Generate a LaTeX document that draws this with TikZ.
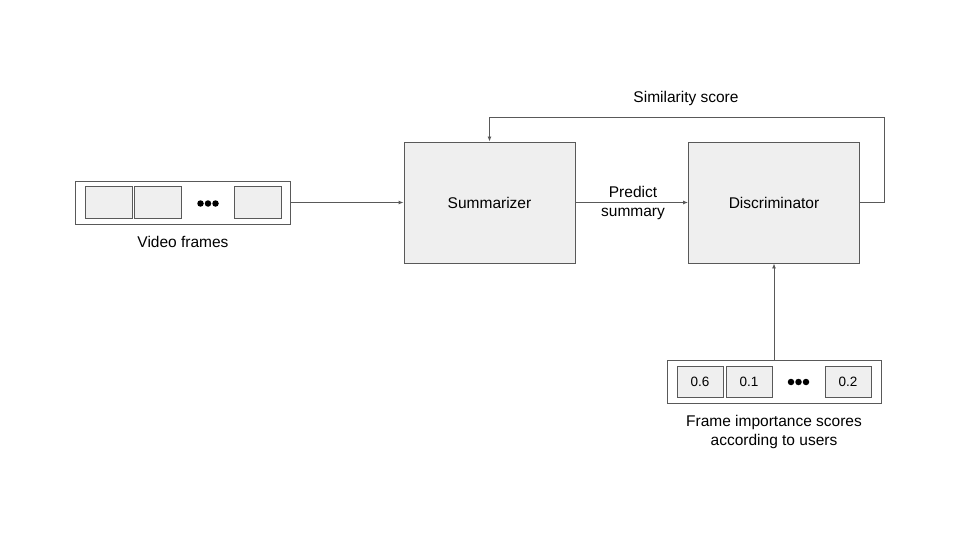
\documentclass[tikz,border=0pt]{standalone}
\usepackage{fontspec}
\setmainfont{Liberation Sans}
\usetikzlibrary{arrows.meta}
\definecolor{boxfill}{HTML}{EFEFEF}
\definecolor{edge}{HTML}{595959}
\begin{document}
\begin{tikzpicture}[x=1pt,y=-1pt,
  bigbox/.style={draw=edge,fill=boxfill,line width=0.9pt,minimum width=171pt,minimum height=121pt,inner sep=0pt,font=\fontsize{15.5}{18}\selectfont},
  outerbox/.style={draw=edge,fill=white,line width=0.9pt,minimum width=215pt,minimum height=43pt,inner sep=0pt},
  cell/.style={draw=edge,fill=boxfill,line width=0.8pt,minimum width=47pt,minimum height=32pt,inner sep=0pt,font=\fontsize{13.5}{16}\selectfont},
  lbl/.style={font=\fontsize{15.5}{19}\selectfont,align=center,inner sep=0pt},
  dot/.style={fill=black,circle,inner sep=0pt,minimum size=6.5pt},
  conn/.style={draw=edge,line width=0.9pt,-{Latex[length=5pt,width=4pt]}}
]
\useasboundingbox (0,0) rectangle (960,540);
\fill[white] (0,0) rectangle (960,540);

% video frames
\node[outerbox] (vf) at (182.5,202.5) {};
\node[cell] (v1) at (108.5,202) {};
\node[cell] (v2) at (157.5,202) {};
\node[cell] (v3) at (257.5,202) {};
\node[dot] (vd1) at (200.5,203.5) {};
\node[dot] (vd2) at (208,203.5) {};
\node[dot] (vd3) at (215.5,203.5) {};
\node[lbl] (vfl) at (183,242) {Video frames};

% main boxes
\node[bigbox] (sum) at (489.5,202.5) {Summarizer};
\node[bigbox] (dis) at (774,202.5) {Discriminator};

% scores
\node[outerbox,minimum width=214pt] (sc) at (774,381.5) {};
\node[cell,minimum width=46pt,minimum height=31pt] (s1) at (700,381.5) {0.6};
\node[cell,minimum width=46pt,minimum height=31pt] (s2) at (749,381.5) {0.1};
\node[cell,minimum width=46pt,minimum height=31pt] (s3) at (848,381.5) {0.2};
\node[dot] (sd1) at (791,382) {};
\node[dot] (sd2) at (798.5,382) {};
\node[dot] (sd3) at (806,382) {};
\node[lbl] (scl) at (774,431.5) {Frame importance scores\\according to users};

% connectors
\draw[conn] (vf.east) -- (sum.west);
\draw[conn] (sum.east) -- (dis.west);
\node[lbl] (ps) at (633,202.5) {Predict\\summary};
\coordinate (c1) at (884,202.5);
\coordinate (c2) at (884,117);
\coordinate (c3) at (489.5,117);
\draw[conn] (dis.east) -- (c1) -- (c2) -- (c3) -- (sum.north);
\node[lbl] (sim) at (686,98) {Similarity score};
\draw[conn] (sc.north) -- (dis.south);
\end{tikzpicture}
\end{document}
